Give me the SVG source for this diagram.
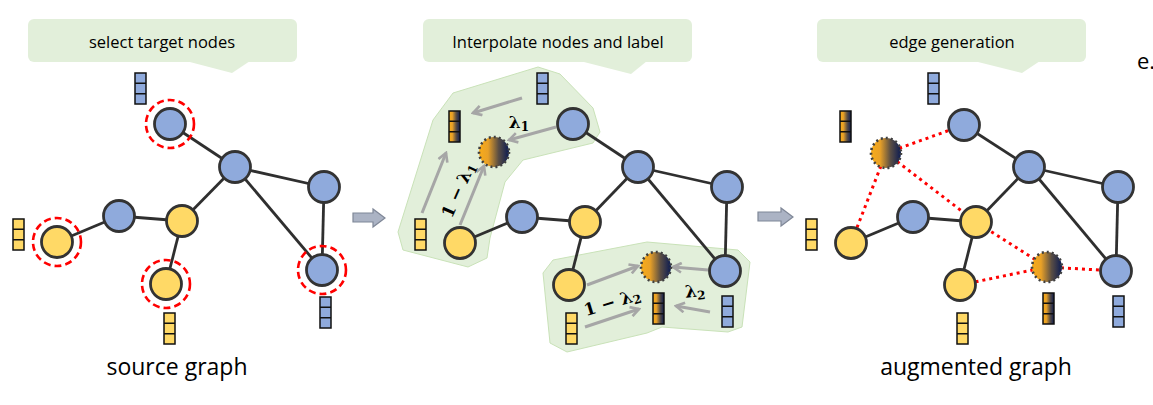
<svg xmlns="http://www.w3.org/2000/svg" xmlns:xlink="http://www.w3.org/1999/xlink" width="1153" height="405" viewBox="0 0 1153 405">
<defs>
<linearGradient id="mix" x1="0" y1="0" x2="1" y2="0">
<stop offset="0" stop-color="#F8AC1A"/>
<stop offset="0.3" stop-color="#E9A127"/>
<stop offset="0.65" stop-color="#5A4E44"/>
<stop offset="1" stop-color="#0A1A52"/>
</linearGradient>
<marker id="ah" viewBox="0 0 10 10" refX="8" refY="5" markerWidth="12" markerHeight="12" markerUnits="userSpaceOnUse" orient="auto">
<path d="M1,1 L8,5 L1,9" fill="none" stroke="#A6A6A6" stroke-width="2.2"/>
</marker>
<g id="vecB"><rect width="11" height="31" fill="#8FAADC"/><path d="M0 10.33H11M0 20.67H11" stroke="#111" stroke-width="1.5"/><rect width="11" height="31" fill="none" stroke="#111" stroke-width="1.5"/></g>
<g id="vecY"><rect width="11" height="31" fill="#FFD966"/><path d="M0 10.33H11M0 20.67H11" stroke="#111" stroke-width="1.5"/><rect width="11" height="31" fill="none" stroke="#111" stroke-width="1.5"/></g>
<g id="vecM"><rect width="11" height="31" fill="url(#mix)"/><path d="M0 10.33H11M0 20.67H11" stroke="#111" stroke-width="1.5"/><rect width="11" height="31" fill="none" stroke="#111" stroke-width="1.5"/></g>
</defs>
<style>
.callout{fill:#E2EFDA}
.region{fill:#E2EFDA;stroke:#C9E2B8;stroke-width:1}
.edge{stroke:#2F2F2F;stroke-width:2.8;fill:none}
.gen{stroke:#FF0000;stroke-width:3;stroke-dasharray:3 4;fill:none}
.garr{stroke:#A6A6A6;stroke-width:3;fill:none;marker-end:url(#ah)}
.nb{fill:#8FAADC;stroke:#333;stroke-width:2.8}
.ny{fill:#FFD966;stroke:#333;stroke-width:2.8}
.nm{fill:url(#mix);stroke:#404040;stroke-width:2.6;stroke-dasharray:2 3}
.sel{fill:none;stroke:#FF0000;stroke-width:2.6;stroke-dasharray:7 4}
.ct{font-family:'Open Sans','Noto Sans',sans-serif;font-size:16.5px;fill:#000;text-anchor:middle}
.cap{font-family:'Open Sans','Noto Sans',sans-serif;font-size:23px;fill:#000;text-anchor:middle}
.math{font-family:'DejaVu Serif','Liberation Serif',serif;font-weight:bold;font-size:17px;fill:#000;text-anchor:middle}
.blk{fill:#ABB3C4;stroke:#7F8797;stroke-width:1.2}
</style>

<g id="callouts">
<g id="callout1"><rect class="callout" x="28" y="19" width="269" height="43" rx="6"/><polygon class="callout" points="186,61 232,73 250,61"/><text class="ct" x="162" y="48">select target nodes</text></g>
<g id="callout2"><rect class="callout" x="423" y="19" width="269" height="43" rx="6"/><polygon class="callout" points="580,61 631,74 647,61"/><text class="ct" x="558" y="48">Interpolate nodes and label</text></g>
<g id="callout3"><rect class="callout" x="817" y="19" width="269" height="43" rx="6"/><polygon class="callout" points="974,61 1022,73 1040,61"/><text class="ct" x="952" y="48">edge generation</text></g>
</g>

<g id="regions">
<polygon id="region1" class="region" points="453,93 538,67 560,74 593,108 600,132 593,143 523,160 505,182 490,238 487,258 468,267 403,250 398,232 433,120"/>
<polygon id="region2" class="region" points="543,273 553,260 647,242 738,250 750,262 742,327 728,332 662,327 647,333 567,352 550,343"/>
</g>

<g id="connectors">
<!-- panel 1 -->
<line class="edge" x1="170" y1="124" x2="235" y2="167"/>
<line class="edge" x1="235" y1="167" x2="324" y2="187"/>
<line class="edge" x1="235" y1="167" x2="182" y2="221"/>
<line class="edge" x1="235" y1="167" x2="322" y2="270"/>
<line class="edge" x1="324" y1="187" x2="322" y2="270"/>
<line class="edge" x1="119" y1="216" x2="182" y2="221"/>
<line class="edge" x1="119" y1="216" x2="57" y2="242"/>
<line class="edge" x1="182" y1="221" x2="166" y2="284"/>
<!-- panel 2 -->
<line class="edge" x1="573" y1="124" x2="638" y2="167"/>
<line class="edge" x1="638" y1="167" x2="727" y2="187"/>
<line class="edge" x1="638" y1="167" x2="585" y2="222"/>
<line class="edge" x1="638" y1="167" x2="725" y2="271"/>
<line class="edge" x1="727" y1="187" x2="725" y2="271"/>
<line class="edge" x1="522" y1="217" x2="585" y2="222"/>
<line class="edge" x1="522" y1="217" x2="460" y2="243"/>
<line class="edge" x1="585" y1="222" x2="569" y2="285"/>
<!-- panel 3 -->
<line class="edge" x1="964" y1="125" x2="1029" y2="167"/>
<line class="edge" x1="1029" y1="167" x2="1118" y2="187"/>
<line class="edge" x1="1029" y1="167" x2="976" y2="222"/>
<line class="edge" x1="1029" y1="167" x2="1116" y2="271"/>
<line class="edge" x1="1118" y1="187" x2="1116" y2="271"/>
<line class="edge" x1="913" y1="217" x2="976" y2="222"/>
<line class="edge" x1="913" y1="217" x2="851" y2="243"/>
<line class="edge" x1="976" y1="222" x2="960" y2="285"/>
<!-- generated edges -->
<line class="gen" x1="886" y1="153" x2="964" y2="125"/>
<line class="gen" x1="886" y1="153" x2="851" y2="243"/>
<line class="gen" x1="886" y1="153" x2="976" y2="222"/>
<line class="gen" x1="1047" y1="267" x2="976" y2="222"/>
<line class="gen" x1="1047" y1="267" x2="960" y2="285"/>
<line class="gen" x1="1047" y1="267" x2="1116" y2="271"/>
<!-- interpolation arrows -->
<line class="garr" x1="522" y1="98" x2="473" y2="113"/>
<line class="garr" x1="556" y1="127" x2="509" y2="140"/>
<line class="garr" x1="422" y1="213" x2="446" y2="153"/>
<line class="garr" x1="460" y1="225" x2="484" y2="166"/>
<line class="garr" x1="587" y1="285" x2="638" y2="266"/>
<line class="garr" x1="585" y1="327" x2="639" y2="309"/>
<line class="garr" x1="708" y1="270" x2="673" y2="267"/>
<line class="garr" x1="710" y1="312" x2="676" y2="306"/>
<!-- panel arrows -->
<path class="blk" d="M353,213 L373,213 L373,209 L385,218 L373,227 L373,222 L353,222 Z"/>
<path class="blk" d="M758,212 L781,212 L781,208 L793,217 L781,226 L781,221 L758,221 Z"/>
</g>

<g id="p1-selected">
<circle class="sel" cx="170" cy="124" r="24"/>
<circle class="sel" cx="57" cy="242" r="24"/>
<circle class="sel" cx="166" cy="284" r="24"/>
<circle class="sel" cx="322" cy="270" r="24"/>
</g>

<g id="p1-A"><circle class="nb" cx="170" cy="124" r="15.5"/></g>
<g id="p1-B"><circle class="nb" cx="235" cy="167" r="15.5"/></g>
<g id="p1-C"><circle class="nb" cx="324" cy="187" r="15.5"/></g>
<g id="p1-D"><circle class="nb" cx="119" cy="216" r="15.5"/></g>
<g id="p1-E"><circle class="ny" cx="182" cy="221" r="15.5"/></g>
<g id="p1-F"><circle class="ny" cx="57" cy="242" r="15.5"/></g>
<g id="p1-G"><circle class="ny" cx="166" cy="284" r="15.5"/></g>
<g id="p1-H"><circle class="nb" cx="322" cy="270" r="15.5"/></g>

<g id="p2-A"><circle class="nb" cx="573" cy="124" r="15.5"/></g>
<g id="p2-B"><circle class="nb" cx="638" cy="167" r="15.5"/></g>
<g id="p2-C"><circle class="nb" cx="727" cy="187" r="15.5"/></g>
<g id="p2-D"><circle class="nb" cx="522" cy="217" r="15.5"/></g>
<g id="p2-E"><circle class="ny" cx="585" cy="222" r="15.5"/></g>
<g id="p2-F"><circle class="ny" cx="460" cy="243" r="15.5"/></g>
<g id="p2-G"><circle class="ny" cx="569" cy="285" r="15.5"/></g>
<g id="p2-H"><circle class="nb" cx="725" cy="271" r="15.5"/></g>
<g id="p2-M1"><circle class="nm" cx="494" cy="152" r="15"/></g>
<g id="p2-M2"><circle class="nm" cx="656" cy="267" r="15"/></g>

<g id="p3-A"><circle class="nb" cx="964" cy="125" r="15.5"/></g>
<g id="p3-B"><circle class="nb" cx="1029" cy="167" r="15.5"/></g>
<g id="p3-C"><circle class="nb" cx="1118" cy="187" r="15.5"/></g>
<g id="p3-D"><circle class="nb" cx="913" cy="217" r="15.5"/></g>
<g id="p3-E"><circle class="ny" cx="976" cy="222" r="15.5"/></g>
<g id="p3-F"><circle class="ny" cx="851" cy="243" r="15.5"/></g>
<g id="p3-G"><circle class="ny" cx="960" cy="285" r="15.5"/></g>
<g id="p3-H"><circle class="nb" cx="1116" cy="271" r="15.5"/></g>
<g id="p3-M1"><circle class="nm" cx="886" cy="153" r="15"/></g>
<g id="p3-M2"><circle class="nm" cx="1047" cy="267" r="15"/></g>

<g id="vectors">
<use href="#vecB" x="135" y="73"/>
<use href="#vecY" x="13" y="219"/>
<use href="#vecY" x="164" y="313"/>
<use href="#vecB" x="320" y="297"/>

<use href="#vecB" x="537" y="73"/>
<use href="#vecM" x="449" y="111"/>
<use href="#vecY" x="415" y="219"/>
<use href="#vecY" x="566" y="313"/>
<use href="#vecM" x="653" y="293"/>
<use href="#vecB" x="722" y="296"/>

<use href="#vecB" x="928" y="73"/>
<use href="#vecM" x="840" y="111"/>
<use href="#vecY" x="806" y="219"/>
<use href="#vecY" x="957" y="313"/>
<use href="#vecM" x="1043" y="293"/>
<use href="#vecB" x="1113" y="296"/>
</g>

<g id="labels">
<text class="math" x="519" y="128">λ<tspan font-size="12" dy="3">1</tspan></text>
<text class="math" transform="translate(458,190) rotate(-66)" x="0" y="6">1 − λ<tspan font-size="12" dy="3">1</tspan></text>
<text class="math" transform="translate(612,302) rotate(-17)" x="0" y="6">1 − λ<tspan font-size="12" dy="3">2</tspan></text>
<text class="math" transform="translate(695,291) rotate(-5)" x="0" y="6">λ<tspan font-size="12" dy="3">2</tspan></text>
<text class="cap" x="177" y="375">source graph</text>
<text class="cap" x="976" y="375">augmented graph</text>
<text class="cap" x="1137" y="69" style="text-anchor:start;font-size:22px">e.</text>
</g>
</svg>
